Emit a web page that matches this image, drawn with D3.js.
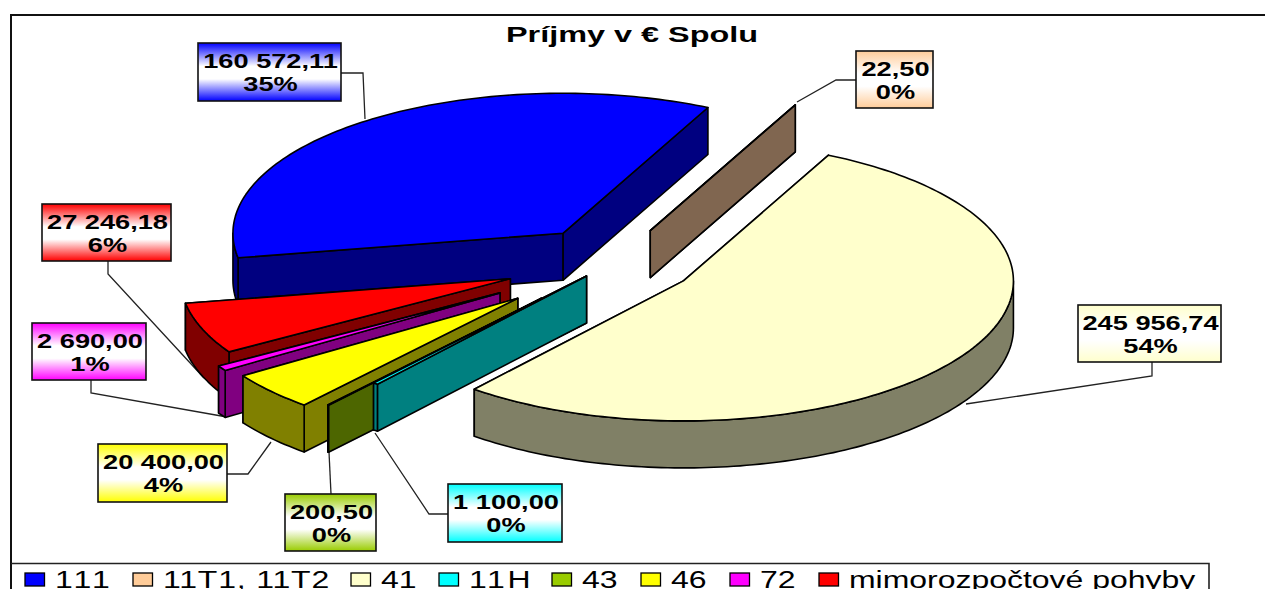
<!DOCTYPE html>
<html>
<head>
<meta charset="utf-8">
<script src="https://cdn.jsdelivr.net/npm/d3@7"></script>
<style>
  html, body { margin: 0; padding: 0; background: #fff; overflow: hidden; }
  text { font-family: "Liberation Sans", Arial, sans-serif; fill: #000; }
</style>
</head>
<body>
<div id="pie_chart"></div>
<script>
// data
const categories = ["111", "11T1, 11T2", "41", "11H", "43", "46", "72", "mimorozpočtové pohyby"];
const values = [160572.11, 22.50, 245956.74, 1100.00, 200.50, 20400.00, 2690.00, 27246.18];
const valueLabels = ["160 572,11", "22,50", "245 956,74", "1 100,00", "200,50", "20 400,00", "2 690,00", "27 246,18"];
const percentLabels = ["35%", "0%", "54%", "0%", "0%", "4%", "1%", "6%"];

// colours per slice, top face and the darker wall
const colors = ["#0000ff", "#ffcc99", "#ffffcc", "#00ffff", "#99cc00", "#ffff00", "#ff00ff", "#ff0000"];
const wallColors = ["#000080", "#806650", "#808066", "#008080", "#4d6600", "#808000", "#800080", "#800000"];

// how far each slice is pulled out, as a share of the radius
const explode = [0.257, 0.25, 0.25, 0.13, 0.34, 0.39, 0.41, 0.336];
// back slices get painted first
const paintOrder = [0, 1, 2, 7, 6, 5, 4, 3];

// label boxes [x0, y0, x1, y1] and their leader lines
const labelBoxes = [
  [198, 43, 341, 101], [856, 51, 933, 108], [1078, 305, 1221, 362], [448, 484, 562, 542],
  [285, 494, 376, 551], [98, 444, 227, 502], [32, 323, 146, 380], [42, 204, 171, 261]
];
const leaders = [
  [[341, 73], [363, 73], [365, 119]],
  [[856, 80], [836, 80], [797, 102]],
  [[1152, 362], [1152, 376], [966, 404]],
  [[448, 514], [429, 514], [375, 433]],
  [[331, 494], [329, 452]],
  [[227, 474], [248, 474], [271, 442]],
  [[91, 380], [91, 393], [227, 417]],
  [[108, 261], [108, 274], [204, 378]]
];

// legend swatch left edges, and text stretched where the original spaces it wider
const legendX = [25, 133, 351, 439, 552, 641, 730, 819];
const legendTextLength = [39.5, 119.6, null, 44.4, null, null, null, null];

const width = 1265, height = 589;
const rx = 330, ry = 140, depth = 47;
const centerX = 614, centerY = 262;
const startDeg = 259.9;

const svg = d3.select("#pie_chart")
  .append("svg")
    .attr("width", width)
    .attr("height", height)
    .style("display", "block");

const defs = svg.append("defs");

// box fill runs colour - white - colour
colors.forEach(function(c, i) {
  const grad = defs.append("linearGradient")
    .attr("id", "label" + i)
    .attr("x1", 0).attr("y1", 0).attr("x2", 0).attr("y2", 1);
  [[0, c], [0.4, "#fff"], [0.62, "#fff"], [1, c]].forEach(function(s) {
    grad.append("stop").attr("offset", s[0]).attr("stop-color", s[1]);
  });
});

// chart frame, cut off by the right and bottom of the picture
svg.append("path")
  .attr("d", `M${width},15H11V${height}`)
  .attr("fill", "none")
  .attr("stroke", "#111")
  .attr("stroke-width", 2);

svg.append("text")
  .attr("x", 632)
  .attr("y", 42)
  .attr("text-anchor", "middle")
  .style("font-size", "22px")
  .style("font-weight", "bold")
  .attr("textLength", 252)
  .attr("lengthAdjust", "spacingAndGlyphs")
  .text("Príjmy v € Spolu");

// leader lines go under the slices
const line = d3.line();
svg.append("g")
  .selectAll("path")
  .data(leaders)
  .join("path")
    .attr("d", d => line(d))
    .attr("fill", "none")
    .attr("stroke", "#222")
    .attr("stroke-width", 1.3);

// angles clockwise from the top of the ellipse, they run past 360 here
const pie = d3.pie().sort(null)
  .startAngle(startDeg * Math.PI / 180)
  .endAngle((startDeg + 360) * Math.PI / 180);
const arcs = pie(values);

const px = d3.scaleLinear().domain([-1, 1]).range([-rx, rx]);
const py = d3.scaleLinear().domain([-1, 1]).range([-ry, ry]);

function apex(i) {
  const a = arcs[i], mid = (a.startAngle + a.endAngle) / 2;
  return [centerX + px(Math.sin(mid) * explode[i]), centerY + py(-Math.cos(mid) * explode[i])];
}
function rimBetween(i, t0, t1) {
  const c = apex(i);
  const n = Math.max(2, Math.ceil((t1 - t0) / 0.02));
  return d3.range(n + 1).map(function(k) {
    const t = t0 + (t1 - t0) * k / n;
    return [c[0] + px(Math.sin(t)), c[1] + py(-Math.cos(t))];
  });
}
function down(p) { return [p[0], p[1] + depth]; }

const slices = svg.append("g")
  .attr("stroke", "#000")
  .attr("stroke-width", 1.6)
  .attr("stroke-linejoin", "round");

paintOrder.forEach(function(i) {
  const a = arcs[i], c = apex(i);
  const rim = rimBetween(i, a.startAngle, a.endAngle);
  const first = rim[0], last = rim[rim.length - 1];
  const g = slices.append("g").attr("fill", wallColors[i]);

  // radial walls
  g.append("path").attr("d", line([c, last, down(last), down(c)]) + "Z");
  g.append("path").attr("d", line([c, first, down(first), down(c)]) + "Z");

  // outer wall, only the part facing the viewer (90 to 270 degrees, one turn on too)
  [0, 2 * Math.PI].forEach(function(turn) {
    const t0 = Math.max(a.startAngle, Math.PI / 2 + turn), t1 = Math.min(a.endAngle, Math.PI * 1.5 + turn);
    if (t1 > t0) {
      const front = rimBetween(i, t0, t1);
      g.append("path").attr("d", line(front.concat(front.map(down).reverse())) + "Z");
    }
  });

  // top face
  g.append("path")
    .attr("fill", colors[i])
    .attr("d", line([c].concat(rim)) + "Z");
});

// data labels
const labels = svg.append("g")
  .selectAll("g")
  .data(categories)
  .join("g");

labels.append("rect")
  .attr("x", (d, i) => labelBoxes[i][0])
  .attr("y", (d, i) => labelBoxes[i][1])
  .attr("width", (d, i) => labelBoxes[i][2] - labelBoxes[i][0])
  .attr("height", (d, i) => labelBoxes[i][3] - labelBoxes[i][1])
  .attr("fill", (d, i) => `url(#label${i})`)
  .attr("stroke", "#111")
  .attr("stroke-width", 1.6);

[valueLabels, percentLabels].forEach(function(texts, row) {
  labels.append("text")
    .attr("transform", (d, i) => `translate(${(labelBoxes[i][0] + labelBoxes[i][2]) / 2 + 1},${labelBoxes[i][1] + 24.5 + row * 23}) scale(1.36,1)`)
    .attr("text-anchor", "middle")
    .style("font-size", "20px")
    .style("font-weight", "bold")
    .text((d, i) => texts[i]);
});

// legend, its bottom is cut off by the picture
svg.append("path")
  .attr("d", `M11,563.5H1209V${height}`)
  .attr("fill", "none")
  .attr("stroke", "#222")
  .attr("stroke-width", 1.6);

const legend = svg.append("g")
  .selectAll("g")
  .data(categories)
  .join("g")
    .attr("transform", (d, i) => `translate(${legendX[i]},573)`);

legend.append("rect")
  .attr("width", 19.5)
  .attr("height", 13)
  .attr("fill", (d, i) => colors[i])
  .attr("stroke", "#000")
  .attr("stroke-width", 1.3);

legend.append("text")
  .attr("transform", "translate(30,14.5) scale(1.39,1)")
  .attr("textLength", (d, i) => legendTextLength[i])
  .style("font-size", "23px")
  .text(d => d);
</script>
</body>
</html>
